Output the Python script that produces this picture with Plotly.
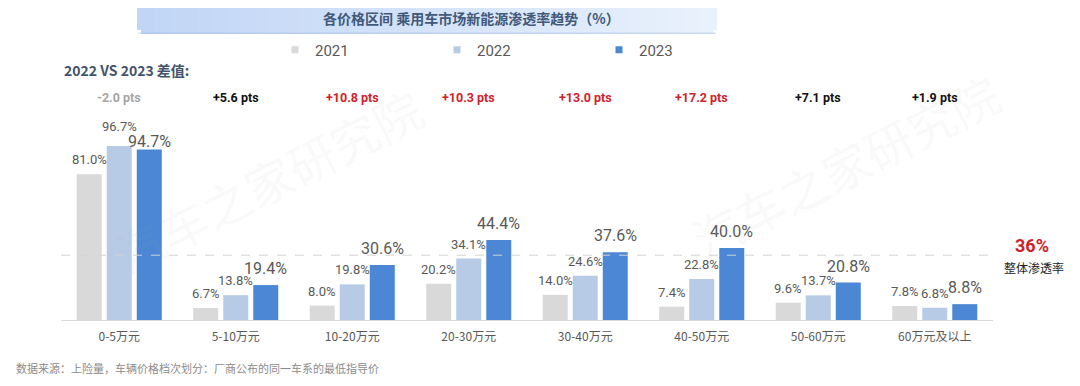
import plotly.graph_objects as go

# ---------------- data ----------------
categories = ["0-5万元", "5-10万元", "10-20万元", "20-30万元", "30-40万元", "40-50万元", "50-60万元", "60万元及以上"]
years = ["2021", "2022", "2023"]
v2021 = [81.0, 6.7, 8.0, 20.2, 14.0, 7.4, 9.6, 7.8]
v2022 = [96.7, 13.8, 19.8, 34.1, 24.6, 22.8, 13.7, 6.8]
v2023 = [94.7, 19.4, 30.6, 44.4, 37.6, 40.0, 20.8, 8.8]
diff_labels = ["-2.0 pts", "+5.6 pts", "+10.8 pts", "+10.3 pts", "+13.0 pts", "+17.2 pts", "+7.1 pts", "+1.9 pts"]
diff_kind = ["neg", "pos", "hi", "hi", "hi", "hi", "pos", "pos"]
overall_rate = 36
title_text = "各价格区间 乘用车市场新能源渗透率趋势（%）"
diff_title = "2022 VS 2023 差值:"
source_text = "数据来源：上险量，车辆价格档次划分：厂商公布的同一车系的最低指导价"
watermark = "汽车之家研究院"

# ---------------- style ----------------
OFF = 8  # page body margin
W, H = 1080 - OFF, 386 - OFF
# target plot area in window pixels: x 61..993, y 140..320
L, R, T, B = 61 - OFF, 1080 - 993, 140 - OFF, 386 - 320
colors = ["#d9d9d9", "#b7cbe6", "#4b87d4"]
diff_colors = {"neg": "#a6a6a6", "pos": "#111111", "hi": "#d0222c"}
FONT = "Roboto, Noto Sans CJK SC, sans-serif"
CJK = "Noto Sans CJK SC, sans-serif"

pw, ph = 993 - 61, 320 - 140
def px(x):
    return (x - 61) / pw
def py(y):
    return (320 - y) / ph

series = [v2021, v2022, v2023]
fig = go.Figure()
for name, vals, c in zip(years, series, colors):
    fig.add_trace(go.Bar(name=name, x=categories, y=vals, marker=dict(color=c, line=dict(width=0)),
                         showlegend=False, hoverinfo="x+y"))
# legend proxies (small squares)
for name, c in zip(years, colors):
    fig.add_trace(go.Scatter(name=name, x=[None], y=[None], mode="markers",
                             marker=dict(symbol="square", size=7, color=c), showlegend=True))

annotations = []
# value labels
label_extra = {(1, 0): 5, (2, 0): -8}
for si, vals in enumerate(series):
    for ci, v in enumerate(vals):
        big = si == 2
        annotations.append(dict(
            x=categories[ci], y=v, xref="x", yref="y", text=f"{v:.1f}%", showarrow=False,
            xshift=(si - 1) * 30, yanchor="bottom", xanchor="center", yshift=5 + label_extra.get((si, ci), 0),
            font=dict(family=FONT, size=16 if big else 13, color="#595959")))
# diff labels
for ci, (t, k) in enumerate(zip(diff_labels, diff_kind)):
    annotations.append(dict(x=categories[ci], y=py(98), xref="x", yref="paper", text=f"<b>{t}</b>",
                            xanchor="center", yanchor="middle",
                            showarrow=False, font=dict(family=FONT, size=12.5, color=diff_colors[k])))
annotations += [
    dict(x=px(471), y=py(18), xref="paper", yref="paper", xanchor="center", yanchor="middle",
         text=f"<b>{title_text}</b>", showarrow=False,
         font=dict(family=CJK, size=14, color="#42597a")),
    dict(x=px(62), y=py(70), xref="paper", yref="paper", xanchor="left", yanchor="middle",
         text=f"<b>{diff_title}</b>", showarrow=False, font=dict(family=CJK, size=14, color="#44546a")),
    dict(x=px(1032), y=py(245), xref="paper", yref="paper", xanchor="center", yanchor="middle",
         text=f"<b>{overall_rate}%</b>", showarrow=False, font=dict(family=FONT, size=18, color="#d0222c")),
    dict(x=px(1034), y=py(267), xref="paper", yref="paper", xanchor="center", yanchor="middle",
         text="整体渗透率", showarrow=False, font=dict(family=CJK, size=12, color="#222222")),
    dict(x=px(14), y=py(368), xref="paper", yref="paper", xanchor="left", yanchor="middle",
         text=source_text, showarrow=False, font=dict(family=CJK, size=11, color="#8c8c8c")),
    dict(x=px(268), y=py(180), xref="paper", yref="paper", xanchor="center", yanchor="middle",
         text=watermark, showarrow=False, textangle=-27,
         font=dict(family=CJK, size=48, color="rgba(170,170,170,0.08)")),
    dict(x=px(845), y=py(165), xref="paper", yref="paper", xanchor="center", yanchor="middle",
         text=watermark, showarrow=False, textangle=-27,
         font=dict(family=CJK, size=48, color="rgba(170,170,170,0.08)")),
]

shapes = []
# banner with horizontal gradient
bx0, bx1, by0, by1 = 137, 717, 1, 34
n = 40
c0 = (193, 214, 246)
c1 = (232, 241, 252)
for i in range(n):
    f = i / (n - 1)
    col = "rgb(%d,%d,%d)" % tuple(int(a + (b - a) * f) for a, b in zip(c0, c1))
    xa = bx0 + 4 + (bx1 - bx0 - 8) * i / n
    xb = bx0 + 4 + (bx1 - bx0 - 8) * (i + 1) / n + 0.6
    shapes.append(dict(type="rect", xref="paper", yref="paper", x0=px(xa), x1=px(xb), y0=py(by1), y1=py(by0),
                       fillcolor=col, line=dict(width=0), layer="below"))
for xa, col in [(bx0, "rgb(193,214,246)"), (bx1 - 8, "rgb(232,241,252)")]:
    shapes.append(dict(type="rect", xref="paper", yref="paper", x0=px(xa), x1=px(xa + 8), y0=py(by1 - 4), y1=py(by0 + 4),
                       fillcolor=col, line=dict(width=0), layer="below"))
shapes.append(dict(type="rect", xref="paper", yref="paper", x0=px(bx0 + 1), x1=px(bx1 - 1), y0=py(by1), y1=py(by1 - 1.5),
                   fillcolor="rgba(150,175,215,0.35)", line=dict(width=0), layer="below"))
# overall rate dashed line
shapes.append(dict(type="line", xref="paper", yref="y", x0=0, x1=1, y0=overall_rate, y1=overall_rate,
                   line=dict(color="#d4d4d4", width=1, dash="dash"), layer="above"))

fig.update_layout(
    width=W, height=H, margin=dict(l=L, r=R, t=T, b=B, autoexpand=False),
    paper_bgcolor="white", plot_bgcolor="white",
    barmode="group", bargap=0.227, bargroupgap=0.167,
    xaxis=dict(showgrid=False, showline=True, linecolor="#d9d9d9", linewidth=1, ticks="",
               ticklabelstandoff=6,
               tickfont=dict(family=CJK, size=12, color="#595959"), fixedrange=True),
    yaxis=dict(range=[0, 100], visible=False, showgrid=False, zeroline=False, fixedrange=True),
    legend=dict(orientation="h", x=px(275), xanchor="left", y=py(50), yanchor="middle",
                font=dict(family=FONT, size=15, color="#595959"), entrywidth=117, entrywidthmode="pixels",
                bgcolor="rgba(0,0,0,0)"),
    annotations=annotations, shapes=shapes, showlegend=True,
)
fig.write_html("out.html")
